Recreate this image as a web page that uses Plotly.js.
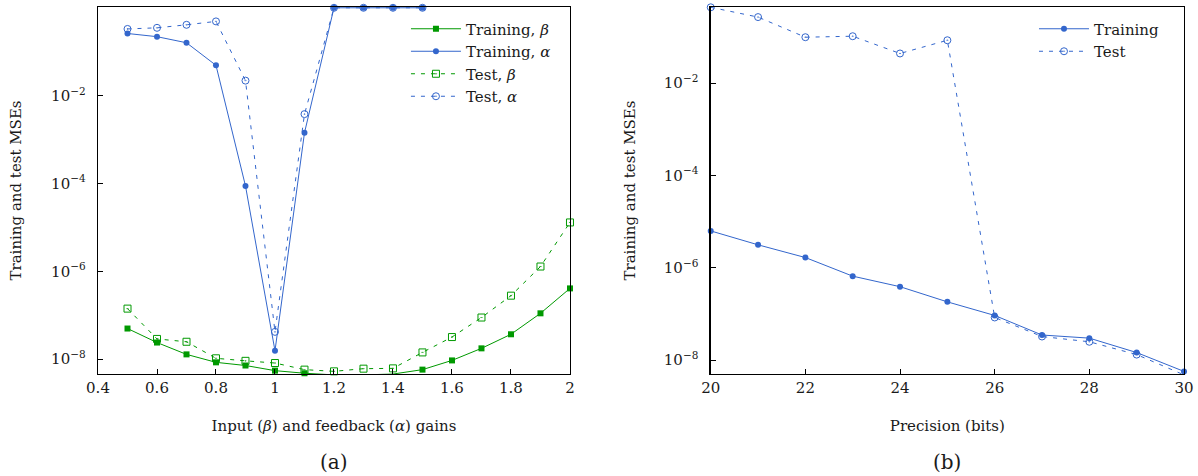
<!DOCTYPE html>
<html>
<head>
<meta charset="utf-8">
<script src="https://cdn.plot.ly/plotly-3.0.1.min.js"></script>
<style>html,body{margin:0;padding:0;background:#fff;}#chart{width:1198px;height:476px;}</style>
</head>
<body>
<div id="chart"></div>
<script>
// ---- Panel (a): gains ----
const gainsBeta = [0.5, 0.6, 0.7, 0.8, 0.9, 1.0, 1.1, 1.2, 1.3, 1.4, 1.5, 1.6, 1.7, 1.8, 1.9, 2.0];
const trainBeta = [5.0e-8, 2.4e-8, 1.29e-8, 8.5e-9, 7.2e-9, 5.5e-9, 4.8e-9, 4.4e-9, 4.4e-9, 4.6e-9, 5.8e-9, 9.4e-9, 1.77e-8, 3.7e-8, 1.11e-7, 4.1e-7];
const testBeta  = [1.42e-7, 2.9e-8, 2.5e-8, 1.05e-8, 9.2e-9, 8.2e-9, 5.8e-9, 5.3e-9, 6.1e-9, 6.2e-9, 1.43e-8, 3.2e-8, 8.9e-8, 2.8e-7, 1.29e-6, 1.3e-5];
const gainsAlpha = [0.5, 0.6, 0.7, 0.8, 0.9, 1.0, 1.1, 1.2, 1.3, 1.4, 1.5];
const trainAlpha = [0.26, 0.22, 0.16, 0.049, 8.8e-5, 1.56e-8, 1.43e-3, 1, 1, 1, 1];
const testAlpha  = [0.33, 0.35, 0.41, 0.49, 0.022, 4.2e-8, 3.8e-3, 1, 1, 1, 1];

// ---- Panel (b): precision ----
const bits      = [20, 21, 22, 23, 24, 25, 26, 27, 28, 29, 30];
const trainBits = [6.3e-6, 3.15e-6, 1.67e-6, 6.6e-7, 3.9e-7, 1.83e-7, 9.3e-8, 3.5e-8, 3.0e-8, 1.46e-8, 5.7e-9];
const testBits  = [0.44, 0.27, 0.099, 0.104, 0.044, 0.085, 8.4e-8, 3.25e-8, 2.5e-8, 1.32e-8, 4.8e-9];

const yTickVals = [1e-8, 1e-6, 1e-4, 1e-2];
const yTickText = ['10<sup>−8</sup>', '10<sup>−6</sup>', '10<sup>−4</sup>', '10<sup>−2</sup>'];

const BLUE = '#3366cc';
const GREEN = '#009900';
const FONT = 'DejaVu Serif';

const traces = [
  {x: gainsBeta, y: trainBeta, name: 'Training, <i>β</i>', mode: 'lines+markers', legend: 'legend',
   line: {color: GREEN, width: 1}, marker: {symbol: 'square', size: 6, color: GREEN}, xaxis: 'x', yaxis: 'y', cliponaxis: false},
  {x: gainsAlpha, y: trainAlpha, name: 'Training, <i>α</i>', mode: 'lines+markers', legend: 'legend',
   line: {color: BLUE, width: 1}, marker: {symbol: 'circle', size: 6, color: BLUE}, xaxis: 'x', yaxis: 'y', cliponaxis: false},
  {x: gainsBeta, y: testBeta, name: 'Test, <i>β</i>', mode: 'lines+markers', legend: 'legend',
   line: {color: GREEN, width: 1, dash: '4px,6px'}, marker: {symbol: 'square-open-dot', size: 7, color: GREEN, line: {width: 1}}, xaxis: 'x', yaxis: 'y', cliponaxis: false},
  {x: gainsAlpha, y: testAlpha, name: 'Test, <i>α</i>', mode: 'lines+markers', legend: 'legend',
   line: {color: BLUE, width: 1, dash: '4px,6px'}, marker: {symbol: 'circle-open-dot', size: 7, color: BLUE, line: {width: 1}}, xaxis: 'x', yaxis: 'y', cliponaxis: false},
  {x: bits, y: trainBits, name: 'Training', mode: 'lines+markers', legend: 'legend2',
   line: {color: BLUE, width: 1}, marker: {symbol: 'circle', size: 6, color: BLUE}, xaxis: 'x2', yaxis: 'y2', cliponaxis: false},
  {x: bits, y: testBits, name: 'Test', mode: 'lines+markers', legend: 'legend2',
   line: {color: BLUE, width: 1, dash: '4px,6px'}, marker: {symbol: 'circle-open-dot', size: 7, color: BLUE, line: {width: 1}}, xaxis: 'x2', yaxis: 'y2', cliponaxis: false}
];

const axisCommon = {
  showline: true, mirror: true, linecolor: '#000', linewidth: 1.3,
  ticks: 'inside', ticklen: 5, tickcolor: '#000', tickwidth: 1,
  showgrid: false, zeroline: false,
  tickfont: {family: FONT, size: 15, color: '#1a1a1a'}
};

const legendCommon = {
  xanchor: 'right', y: 0.985, yanchor: 'top', bgcolor: 'rgba(0,0,0,0)',
  font: {family: FONT, size: 15, color: '#1a1a1a'}, traceorder: 'normal',
  tracegroupgap: 0, itemwidth: 50, valign: 'middle'
};

const layout = {
  width: 1198, height: 476,
  margin: {l: 98, r: 14, t: 7, b: 102},
  paper_bgcolor: '#fff', plot_bgcolor: '#fff',
  font: {family: FONT, size: 15, color: '#1a1a1a'},
  showlegend: true,
  xaxis: Object.assign({}, axisCommon, {
    domain: [0, 0.4346], range: [0.4, 2], tickvals: [0.4, 0.6, 0.8, 1, 1.2, 1.4, 1.6, 1.8, 2],
    ticktext: ['0.4', '0.6', '0.8', '1', '1.2', '1.4', '1.6', '1.8', '2'],
    title: {text: 'Input (<i>β</i>) and feedback (<i>α</i>) gains', font: {family: FONT, size: 15}, standoff: 24},
    anchor: 'y'
  }),
  yaxis: Object.assign({}, axisCommon, {
    type: 'log', range: [-8.336, 0.018], tickvals: yTickVals, ticktext: yTickText,
    title: {text: 'Training and test MSEs', font: {family: FONT, size: 15}, standoff: 26},
    anchor: 'x', ticklabelstandoff: 8
  }),
  xaxis2: Object.assign({}, axisCommon, {
    domain: [0.5642, 1], range: [20, 30], tickvals: [20, 22, 24, 26, 28, 30],
    title: {text: 'Precision (bits)', font: {family: FONT, size: 15}, standoff: 24},
    anchor: 'y2'
  }),
  yaxis2: Object.assign({}, axisCommon, {
    type: 'log', range: [-8.3, -0.35], tickvals: yTickVals, ticktext: yTickText,
    title: {text: 'Training and test MSEs', font: {family: FONT, size: 15}, standoff: 24},
    anchor: 'x2', ticklabelstandoff: 8
  }),
  legend: Object.assign({}, legendCommon, {x: 0.4217}),
  legend2: Object.assign({}, legendCommon, {x: 0.9825}),
  annotations: [
    {text: '(a)', xref: 'paper', yref: 'paper', x: 0.2173, y: -0.2398, xanchor: 'center', yanchor: 'middle', showarrow: false,
     font: {family: FONT, size: 20, color: '#1a1a1a'}},
    {text: '(b)', xref: 'paper', yref: 'paper', x: 0.7821, y: -0.2398, xanchor: 'center', yanchor: 'middle', showarrow: false,
     font: {family: FONT, size: 20, color: '#1a1a1a'}}
  ]
};

Plotly.newPlot('chart', traces, layout, {displayModeBar: false, staticPlot: true});
</script>
</body>
</html>
